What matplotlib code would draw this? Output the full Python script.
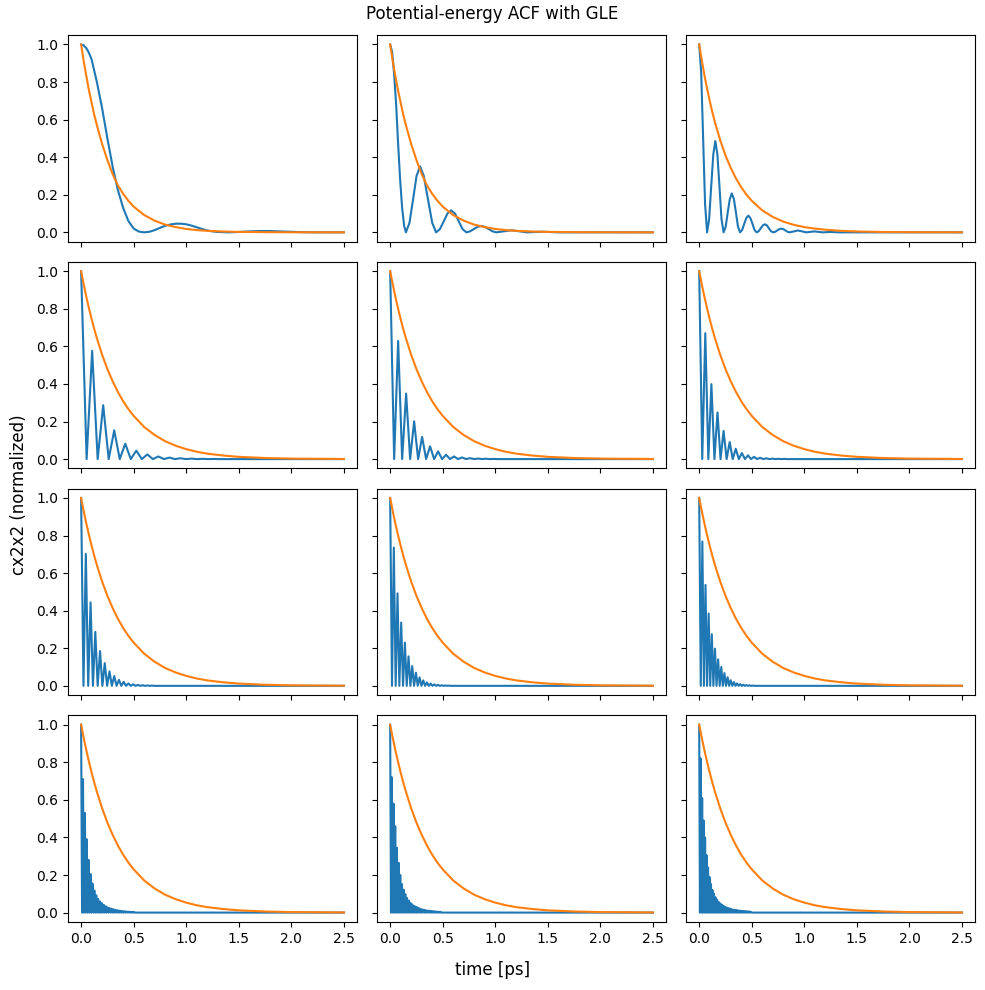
import matplotlib
matplotlib.use("Agg")
from matplotlib import pyplot as plt

# orange reference curves, read on a shared time grid (ps)
t_ref = [0, 0.025, 0.05, 0.075, 0.1, 0.125, 0.15, 0.2, 0.25, 0.3, 0.35, 0.4, 0.45, 0.5, 0.6,
         0.7, 0.8, 0.9, 1.0, 1.1, 1.2, 1.35, 1.5, 1.75, 2.0, 2.5]
ref_fast = [1.0, 0.91, 0.83, 0.755, 0.69, 0.625, 0.57, 0.47, 0.385, 0.31, 0.25, 0.205, 0.168,
            0.137, 0.092, 0.062, 0.041, 0.028, 0.018, 0.012, 0.008, 0.0045, 0.0025, 0.001,
            0.0003, 0.0]
ref_mid = [1.0, 0.915, 0.836, 0.765, 0.70, 0.64, 0.585, 0.49, 0.41, 0.343, 0.287, 0.24, 0.20,
           0.168, 0.117, 0.082, 0.057, 0.04, 0.028, 0.02, 0.014, 0.008, 0.0047, 0.0019, 0.0008,
           0.0001]
ref_slow = [1.0, 0.929, 0.863, 0.802, 0.745, 0.692, 0.643, 0.555, 0.479, 0.414, 0.357, 0.308,
            0.266, 0.23, 0.171, 0.128, 0.095, 0.071, 0.053, 0.039, 0.029, 0.019, 0.012, 0.0058,
            0.0028, 0.0006]

# blue ACF, first three panels read point by point
t_p1 = [0, 0.025, 0.05, 0.075, 0.1, 0.15, 0.2, 0.25, 0.3, 0.35, 0.4, 0.45, 0.5, 0.55, 0.6, 0.65,
        0.7, 0.75, 0.8, 0.85, 0.9, 0.95, 1.0, 1.05, 1.1, 1.15, 1.2, 1.25, 1.3, 1.4, 1.5, 1.6,
        1.7, 1.8, 1.9, 2.0, 2.1, 2.2, 2.5]
acf_p1 = [1.0, 0.995, 0.98, 0.955, 0.92, 0.80, 0.66, 0.50, 0.35, 0.225, 0.13, 0.06, 0.02, 0.004,
          0.0, 0.003, 0.012, 0.024, 0.035, 0.042, 0.046, 0.046, 0.043, 0.036, 0.027, 0.018,
          0.010, 0.005, 0.002, 0.0, 0.002, 0.005, 0.007, 0.007, 0.005, 0.003, 0.001, 0.0, 0.0]

t_p2 = [0, 0.019, 0.038, 0.057, 0.076, 0.095, 0.114, 0.133, 0.150, 0.184, 0.218, 0.251, 0.285,
        0.32, 0.36, 0.40, 0.437, 0.473, 0.509, 0.545, 0.58, 0.617, 0.653, 0.689, 0.725, 0.76,
        0.795, 0.83, 0.865, 0.90, 0.94, 0.975, 1.01, 1.08, 1.155, 1.23, 1.30, 1.445, 1.59, 2.5]
acf_p2 = [1.0, 0.96, 0.84, 0.68, 0.47, 0.28, 0.13, 0.035, 0.0, 0.051, 0.175, 0.30, 0.351, 0.30,
          0.175, 0.051, 0.0, 0.017, 0.058, 0.10, 0.117, 0.10, 0.058, 0.017, 0.0, 0.005, 0.017,
          0.029, 0.034, 0.029, 0.017, 0.005, 0.0, 0.0055, 0.011, 0.0055, 0.0, 0.0035, 0.0, 0.0]

t_p3 = [0, 0.019, 0.0375, 0.056, 0.075, 0.0946, 0.114, 0.134, 0.1535, 0.173, 0.193, 0.212, 0.232,
        0.252, 0.271, 0.291, 0.31, 0.33, 0.35, 0.369, 0.389, 0.409, 0.428, 0.448, 0.4675, 0.487,
        0.507, 0.526, 0.546, 0.566, 0.585, 0.605, 0.625, 0.644, 0.664, 0.683, 0.703, 0.723,
        0.742, 0.762, 0.78, 0.80, 0.82, 0.84, 0.86, 0.90, 0.94, 0.98, 1.017, 1.095, 1.174, 1.25,
        1.331, 2.5]
acf_p3 = [1.0, 0.85, 0.5, 0.15, 0.0, 0.071, 0.243, 0.415, 0.486, 0.415, 0.243, 0.071, 0.0,
          0.030, 0.104, 0.177, 0.207, 0.177, 0.104, 0.030, 0.0, 0.013, 0.045, 0.076, 0.089, 0.076,
          0.045, 0.013, 0.0, 0.006, 0.021, 0.037, 0.043, 0.037, 0.021, 0.006, 0.0, 0.003,
          0.01, 0.017, 0.02, 0.017, 0.01, 0.003, 0.0, 0.005, 0.01, 0.005, 0.0, 0.005, 0.0, 0.002,
          0.0, 0.0]

# remaining panels: spacing between ACF maxima (ps) and height of each maximum
peak_spacing = [0.105, 0.076, 0.058, 0.045, 0.035, 0.030, 0.018, 0.016, 0.014]
peak_heights = [
    [0.576, 0.287, 0.153, 0.082, 0.045, 0.025, 0.014, 0.008, 0.0045, 0.0025, 0.0014, 0.0008],
    [0.629, 0.349, 0.201, 0.118, 0.068, 0.041, 0.023, 0.014, 0.009, 0.005, 0.003, 0.002, 0.001],
    [0.670, 0.399, 0.248, 0.150, 0.091, 0.055, 0.032, 0.020, 0.012, 0.007, 0.004, 0.0025,
     0.0015, 0.001],
    [0.702, 0.444, 0.287, 0.185, 0.121, 0.077, 0.052, 0.032, 0.021, 0.013, 0.008, 0.005, 0.003,
     0.002, 0.0012],
    [0.736, 0.492, 0.337, 0.23, 0.157, 0.105, 0.07, 0.045, 0.029, 0.018, 0.012, 0.008, 0.005,
     0.003, 0.002, 0.0012],
    [0.768, 0.537, 0.385, 0.275, 0.198, 0.141, 0.100, 0.068, 0.046, 0.030, 0.020, 0.013, 0.009,
     0.006, 0.004, 0.0025, 0.0015],
    [0.71, 0.53, 0.39, 0.28, 0.205, 0.155, 0.118, 0.092, 0.072, 0.059, 0.050, 0.041, 0.034,
     0.028, 0.024, 0.021, 0.018, 0.015, 0.013, 0.011, 0.0095, 0.008, 0.007, 0.006, 0.005,
     0.0043, 0.0037, 0.003],
    [0.72, 0.58, 0.46, 0.345, 0.265, 0.20, 0.152, 0.122, 0.098, 0.078, 0.064, 0.052, 0.044,
     0.037, 0.032, 0.028, 0.024, 0.020, 0.017, 0.015, 0.013, 0.011, 0.010, 0.009, 0.008, 0.007,
     0.006, 0.005, 0.0045, 0.004],
    [0.82, 0.61, 0.49, 0.40, 0.305, 0.24, 0.19, 0.152, 0.12, 0.10, 0.082, 0.069, 0.058, 0.050,
     0.044, 0.038, 0.033, 0.029, 0.026, 0.023, 0.021, 0.018, 0.016, 0.015, 0.014, 0.012, 0.011,
     0.010, 0.009, 0.008, 0.0075, 0.007, 0.006, 0.0055, 0.005],
]
t_end = 2.5


def zigzag(spacing, heights):
    # start at 1, touch zero between consecutive maxima
    t, y = [0.0], [1.0]
    for k, h in enumerate(heights, start=1):
        t += [(k - 0.5) * spacing, k * spacing]
        y += [0.0, h]
    t += [(len(heights) + 0.5) * spacing, t_end]
    y += [0.0, 0.0]
    return t, y


curves = [(t_p1, acf_p1), (t_p2, acf_p2), (t_p3, acf_p3)]
curves += [zigzag(s, h) for s, h in zip(peak_spacing, peak_heights)]
refs = [ref_fast, ref_fast, ref_mid] + [ref_slow] * 9

fig, axes = plt.subplots(4, 3, figsize=(9.85, 9.9), dpi=100, sharex=True, sharey=True)
fig.subplots_adjust(left=0.069, right=0.99, top=0.9646, bottom=0.0687, wspace=0.069, hspace=0.097)

for ax, (t, y), ref in zip(axes.flat, curves, refs):
    ax.plot(t, y, color="C0", lw=1.5)
    ax.plot(t_ref, ref, color="C1", lw=1.5)

axes[0, 0].set_xticks([0, 0.5, 1.0, 1.5, 2.0, 2.5])
axes[0, 0].set_yticks([0, 0.2, 0.4, 0.6, 0.8, 1.0])

fig.suptitle("Potential-energy ACF with GLE", y=0.995, va="top")
fig.supxlabel("time [ps]", y=0.011)
fig.supylabel("cx2x2 (normalized)", x=0.01)

fig.savefig("out.png")
